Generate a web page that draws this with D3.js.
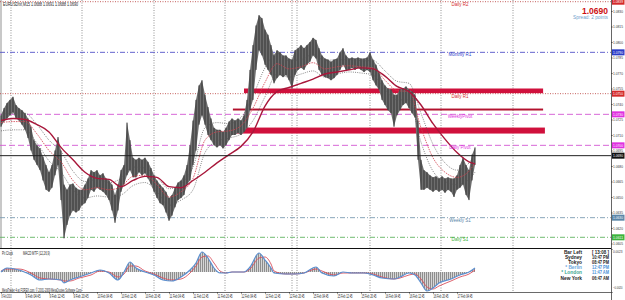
<!DOCTYPE html>
<html>
<head>
<meta charset="utf-8">
<script src="https://cdn.jsdelivr.net/npm/d3@7"></script>
<style>
body { margin: 0; background: #fff; }
svg { display: block; font-family: "Liberation Sans", Arial, sans-serif; }
</style>
</head>
<body>
<svg width="625" height="300"></svg>
<script>
// EURUSD M15, squeezed to one high/low per hour (hour 0 = 8 Feb 20:45)
var highs = [
  1.0729,1.0736,1.0741,1.0744,1.0747,1.0739,1.0736,1.0734,1.0731,1.0726,
  1.0718,1.0705,1.0700,1.0697,1.0689,1.0681,1.0674,1.0681,1.0695,1.0708,
  1.0695,1.0662,1.0657,1.0662,1.0663,1.0659,1.0657,1.0657,1.0662,1.0668,
  1.0676,1.0674,1.0676,1.0671,1.0673,1.0668,1.0666,1.0662,1.0652,1.0662,
  1.0676,1.0681,1.0722,1.0705,1.0688,1.0686,1.0688,1.0686,1.0688,1.0684,
  1.0678,1.0671,1.0666,1.0662,1.0659,1.0655,1.0649,1.0652,1.0659,1.0664,
  1.0666,1.0671,1.0681,1.0700,1.0724,1.0744,1.0758,1.0763,1.0749,1.0737,
  1.0726,1.0717,1.0715,1.0715,1.0713,1.0717,1.0723,1.0726,1.0724,1.0726,
  1.0724,1.0729,1.0744,1.0773,1.0797,1.0816,1.0826,1.0823,1.0812,1.0807,
  1.0797,1.0787,1.0792,1.0790,1.0787,1.0787,1.0784,1.0783,1.0792,1.0794,
  1.0797,1.0794,1.0797,1.0800,1.0804,1.0802,1.0794,1.0787,1.0784,1.0783,
  1.0781,1.0783,1.0784,1.0790,1.0794,1.0787,1.0784,1.0785,1.0784,1.0785,
  1.0784,1.0784,1.0785,1.0790,1.0783,1.0778,1.0771,1.0763,1.0758,1.0755,
  1.0754,1.0749,1.0749,1.0754,1.0755,1.0757,1.0754,1.0752,1.0749,1.0724,
  1.0686,1.0676,1.0674,1.0671,1.0669,1.0670,1.0668,1.0670,1.0668,1.0669,
  1.0668,1.0668,1.0671,1.0681,1.0688,1.0681,1.0676,1.0691,1.0698
];
var lows = [
  1.0718,1.0723,1.0726,1.0729,1.0732,1.0726,1.0724,1.0720,1.0715,1.0707,
  1.0695,1.0686,1.0681,1.0676,1.0666,1.0657,1.0655,1.0659,1.0671,1.0681,
  1.0647,1.0610,1.0623,1.0632,1.0637,1.0635,1.0637,1.0642,1.0644,1.0649,
  1.0657,1.0655,1.0659,1.0657,1.0655,1.0652,1.0647,1.0637,1.0625,1.0637,
  1.0655,1.0662,1.0671,1.0676,1.0669,1.0669,1.0674,1.0671,1.0673,1.0668,
  1.0662,1.0655,1.0649,1.0644,1.0642,1.0635,1.0627,1.0632,1.0640,1.0647,
  1.0649,1.0652,1.0662,1.0666,1.0681,1.0695,1.0720,1.0729,1.0720,1.0710,
  1.0705,1.0700,1.0698,1.0700,1.0697,1.0700,1.0705,1.0710,1.0710,1.0712,
  1.0710,1.0713,1.0717,1.0734,1.0744,1.0773,1.0792,1.0787,1.0778,1.0773,
  1.0768,1.0760,1.0765,1.0768,1.0766,1.0768,1.0763,1.0755,1.0768,1.0773,
  1.0775,1.0773,1.0778,1.0781,1.0787,1.0784,1.0773,1.0768,1.0766,1.0765,
  1.0763,1.0765,1.0768,1.0773,1.0778,1.0773,1.0773,1.0775,1.0773,1.0775,
  1.0773,1.0771,1.0773,1.0771,1.0763,1.0758,1.0754,1.0744,1.0739,1.0734,
  1.0731,1.0718,1.0729,1.0734,1.0739,1.0741,1.0736,1.0731,1.0727,1.0686,
  1.0657,1.0657,1.0659,1.0657,1.0655,1.0657,1.0655,1.0657,1.0654,1.0657,
  1.0655,1.0650,1.0657,1.0659,1.0662,1.0652,1.0647,1.0666,1.0681
];

// moving averages, read every 4 hours
var maHours = [0,4,8,12,16,20,24,28,32,36,40,44,48,52,56,60,64,68,72,76,
  80,84,88,92,96,100,104,108,112,116,120,124,128,132,136,140,144,148,152,156,158];
var slowMa = [1.0724,1.0726,1.0725,1.0720,1.0713,1.0698,1.0686,1.0674,1.0668,1.0667,
  1.0660,1.0666,1.0670,1.0669,1.0660,1.0659,1.0666,1.0674,1.0683,1.0691,
  1.0699,1.0713,1.0738,1.0752,1.0756,1.0760,1.0764,1.0769,1.0771,1.0773,
  1.0775,1.0774,1.0767,1.0757,1.0752,1.0739,1.0721,1.0706,1.0693,1.0684,1.0682];
var fastMa = [1.0722,1.0723,1.0723,1.0711,1.0695,1.0684,1.0666,1.0657,1.0659,1.0657,
  1.0660,1.0670,1.0671,1.0662,1.0650,1.0655,1.0668,1.0705,1.0713,1.0714,
  1.0719,1.0736,1.0761,1.0779,1.0774,1.0776,1.0780,1.0774,1.0776,1.0777,
  1.0776,1.0775,1.0763,1.0753,1.0752,1.0717,1.0688,1.0674,1.0669,1.0675,1.0683];
var bandUp = [1.0730,1.0731,1.0731,1.0720,1.0705,1.0694,1.0675,1.0665,1.0667,1.0664,
  1.0668,1.0679,1.0678,1.0669,1.0658,1.0663,1.0679,1.0717,1.0722,1.0721,
  1.0727,1.0748,1.0775,1.0789,1.0782,1.0783,1.0788,1.0782,1.0783,1.0783,
  1.0782,1.0782,1.0772,1.0762,1.0760,1.0731,1.0701,1.0683,1.0676,1.0683,1.0692];
var bandDown = [1.0714,1.0715,1.0715,1.0702,1.0685,1.0674,1.0657,1.0649,1.0651,1.0650,
  1.0652,1.0661,1.0664,1.0655,1.0642,1.0647,1.0657,1.0693,1.0704,1.0707,
  1.0711,1.0724,1.0747,1.0769,1.0766,1.0769,1.0772,1.0766,1.0769,1.0771,
  1.0770,1.0768,1.0754,1.0744,1.0744,1.0703,1.0675,1.0665,1.0662,1.0667,1.0674];

// MACD MTF
var macdHours = [0,2,6,10,13,16,20,21,23,26,30,33,36,39,41,43,45,48,51,54,
  57,60,63,65,67,69,71,73,75,77,81,83,86,88,90,91,95,98,101,105,
  107,111,114,117,121,124,127,131,133,136,138,140,142,144,146,150,153,156,158];
var macdMain = [0.0000,0.0004,0.0002,-0.0003,-0.0008,-0.0007,-0.0008,-0.0011,-0.0008,-0.0005,
  -0.0001,0.0002,-0.0001,-0.0008,0.0000,0.0010,0.0004,0.0000,-0.0003,-0.0008,
  -0.0009,-0.0005,0.0002,0.0009,0.0020,0.0014,0.0004,-0.0001,-0.0001,0.0000,
  0.0000,0.0005,0.0019,0.0012,0.0004,-0.0001,-0.0002,-0.0002,-0.0001,0.0005,
  -0.0001,-0.0004,0.0000,-0.0001,-0.0001,-0.0003,-0.0006,-0.0007,-0.0005,-0.0001,
  -0.0003,-0.0011,-0.0019,-0.0016,-0.0011,-0.0007,-0.0003,0.0000,0.0004];
var macdSignal = [0.0001,0.0003,0.0003,-0.0001,-0.0006,-0.0007,-0.0008,-0.0009,-0.0009,-0.0006,
  -0.0003,0.0001,0.0000,-0.0005,-0.0002,0.0006,0.0006,0.0001,-0.0002,-0.0006,
  -0.0008,-0.0007,-0.0001,0.0006,0.0015,0.0016,0.0009,0.0001,-0.0001,0.0000,
  0.0000,0.0003,0.0014,0.0015,0.0008,0.0001,-0.0002,-0.0002,-0.0001,0.0003,
  0.0001,-0.0003,-0.0001,-0.0001,-0.0001,-0.0002,-0.0005,-0.0007,-0.0006,-0.0003,
  -0.0002,-0.0007,-0.0015,-0.0017,-0.0014,-0.0009,-0.0005,-0.0002,0.0002];

// pivot levels
var levelNames = ["Daily R2","Monthly R1","Daily R1","WeeklyPivot","Daily Pivot","Weekly S1","Daily S1"];
var levelPrices = [1.0839,1.0790,1.0750,1.0730,1.0700,1.0630,1.0611];
var lastPrice = 1.0690;

// drawn zones
var zoneStart = [81, 77.3, 76.3];
var zoneEnd = [180.7, 180.7, 181.3];
var zoneTop = [1.0755, 1.07356, 1.07172];
var zoneBottom = [1.07505, 1.07337, 1.07114];

var priceTicks = [1.0830,1.0815,1.0800,1.0785,1.0770,1.0755,1.0740,1.0725,1.0710,
  1.0695,1.0680,1.0665,1.0650,1.0635,1.0620,1.0605];
var macdTicks = [0.0023, -0.0020];
var daySeparators = [3.33, 27, 51, 74.67, 97, 98.67, 123, 146.67, 170.67];
var timeLabels = ["8 Feb 2010","9 Feb 04:45","9 Feb 12:45","9 Feb 20:45","10 Feb 04:45","10 Feb 12:45",
  "10 Feb 20:45","11 Feb 04:45","11 Feb 12:45","11 Feb 20:45","12 Feb 04:45","12 Feb 12:45",
  "12 Feb 20:45","15 Feb 04:45","15 Feb 12:45","15 Feb 20:45","16 Feb 04:45","16 Feb 12:45",
  "16 Feb 20:45","17 Feb 04:45"];
var timeHours = [0,8,16,24,32,40,48,56,64,72,80,88,96,104,112,120,128,136,144,152];

var clockNames = ["Bar Left","Sydney","Tokyo","* Berlin","* London","New York"];
var clockTimes = ["[ 13:08 ]","10:47 PM","08:47 PM","12:47 PM","11:47 AM","06:47 AM"];

var levelStyle = {
  "Daily R2":    {line: "#c0504d", box: "#d42a2a", dash: "1,1.5"},
  "Monthly R1":  {line: "#5252c8", box: "#2c3cc8", dash: "5,2,1,2"},
  "Daily R1":    {line: "#c0504d", box: "#d42a2a", dash: "1,1.5"},
  "WeeklyPivot": {line: "#d257d2", box: "#e030e0", dash: "6,3"},
  "Daily Pivot": {line: "#d257d2", box: "#e030e0", dash: "6,3"},
  "Weekly S1":   {line: "#7d9db2", box: "#5a86a8", dash: "5,2,1,2"},
  "Daily S1":    {line: "#62b462", box: "#3cb43c", dash: "5,2,1,2"}
};

var svg = d3.select("svg");
var right = 611;
var x = d3.scaleLinear().domain([0, 203]).range([1, 610]);
var y = d3.scaleLinear().domain([1.0800, 1.0680]).range([42, 166]);
var yM = d3.scaleLinear().domain([-0.0020, 0.0023]).range([292, 249]);

var defs = svg.append("defs");
defs.append("clipPath").attr("id", "mainClip").append("rect")
  .attr("x", 0).attr("y", 0).attr("width", right).attr("height", 248);
defs.append("clipPath").attr("id", "macdClip").append("rect")
  .attr("x", 0).attr("y", 249).attr("width", right).attr("height", 43);
var pat = defs.append("pattern").attr("id", "stripes")
  .attr("width", 2).attr("height", 4).attr("patternUnits", "userSpaceOnUse");
pat.append("rect").attr("width", 1).attr("height", 4).attr("fill", "#8e8e8e");
pat.append("rect").attr("x", 1).attr("width", 1).attr("height", 4).attr("fill", "#d6d6d6");

function tiny(sel, size, len) {
  sel.style("font-size", size + "px");
  if (len) sel.attr("textLength", len).attr("lengthAdjust", "spacingAndGlyphs");
  return sel;
}

// left strip
svg.append("rect").attr("x", 0).attr("y", 0).attr("width", 2).attr("height", 248).attr("fill", "#c8c8c8");

// day separators across both panes
svg.append("g").selectAll("line").data(daySeparators).enter().append("line")
  .attr("x1", function(d) {return x(d);}).attr("x2", function(d) {return x(d);})
  .attr("y1", 0).attr("y2", 292)
  .attr("stroke", "#777").attr("stroke-width", 0.8).attr("stroke-dasharray", "1,1.5");

var main = svg.append("g").attr("clip-path", "url(#mainClip)");

// pivot level lines
main.selectAll("line.level").data(levelNames).enter().append("line")
  .attr("class", "level")
  .attr("x1", 0).attr("x2", right)
  .attr("y1", function(d, i) {return y(levelPrices[i]);})
  .attr("y2", function(d, i) {return y(levelPrices[i]);})
  .attr("stroke", function(d) {return levelStyle[d].line;})
  .attr("stroke-width", 0.9)
  .attr("stroke-dasharray", function(d) {return levelStyle[d].dash;});

// zones
main.selectAll("rect.zone").data(zoneTop).enter().append("rect")
  .attr("class", "zone")
  .attr("x", function(d, i) {return x(zoneStart[i]);})
  .attr("width", function(d, i) {return x(zoneEnd[i]) - x(zoneStart[i]);})
  .attr("y", function(d) {return y(d);})
  .attr("height", function(d, i) {return y(zoneBottom[i]) - y(d);})
  .attr("fill", function(d, i) {return i === 1 ? "#b3122e" : "#d0103c";});

// price
var hours = highs.map(function(d, i) {return i;});
main.append("path").datum(hours)
  .attr("fill", "#6e6e6e")
  .attr("d", d3.area()
    .x(function(i) {return x(i);})
    .y0(function(i) {return y(lows[i]);})
    .y1(function(i) {return y(highs[i]);}));
main.selectAll("line.bar").data(hours).enter().append("line")
  .attr("class", "bar")
  .attr("x1", function(i) {return x(i);}).attr("x2", function(i) {return x(i);})
  .attr("y1", function(i) {return y(highs[i]);})
  .attr("y2", function(i) {return y(lows[i]);})
  .attr("stroke", "#333").attr("stroke-width", 1);

// moving averages
function maLine(values, color, width, dash) {
  main.append("path").datum(maHours)
    .attr("fill", "none").attr("stroke", color).attr("stroke-width", width)
    .attr("stroke-dasharray", dash)
    .attr("d", d3.line()
      .x(function(h) {return x(h);})
      .y(function(h, i) {return y(values[i]);})
      .curve(d3.curveMonotoneX));
}
maLine(bandUp, "#555", 0.7, "1,1.2");
maLine(bandDown, "#555", 0.7, "1,1.2");
maLine(fastMa, "#d2404e", 0.8, "1.5,1");
maLine(slowMa, "#a8173a", 1.4, null);

// level labels
main.selectAll("text.level").data(levelNames).enter().append("text")
  .attr("class", "level")
  .attr("x", 460).attr("y", function(d, i) {return y(levelPrices[i]) + 4;})
  .attr("text-anchor", "middle")
  .attr("fill", function(d) {return levelStyle[d].box;})
  .text(function(d) {return d;})
  .call(tiny, 4.5, null);

// current price line
svg.append("line").attr("x1", 0).attr("x2", right)
  .attr("y1", y(lastPrice)).attr("y2", y(lastPrice))
  .attr("stroke", "#222").attr("stroke-width", 1);

// pane borders
svg.append("line").attr("x1", 0).attr("x2", right).attr("y1", 248.5).attr("y2", 248.5)
  .attr("stroke", "#111").attr("stroke-width", 1);
svg.append("line").attr("x1", 0).attr("x2", right).attr("y1", 292.5).attr("y2", 292.5)
  .attr("stroke", "#444").attr("stroke-width", 0.8);
svg.append("line").attr("x1", right + 0.5).attr("x2", right + 0.5).attr("y1", 0).attr("y2", 300)
  .attr("stroke", "#666").attr("stroke-width", 1);

// price axis
var yAxis = svg.append("g").attr("transform", "translate(" + right + ",0)")
  .call(d3.axisRight(y).tickValues(priceTicks).tickFormat(d3.format(".4f")).tickSize(1.5).tickPadding(0.5));
yAxis.select(".domain").remove();
yAxis.selectAll("line").attr("stroke", "#444");
yAxis.selectAll("text").attr("fill", "#333").call(tiny, 4.3, 10);

// level boxes on the axis
var boxes = svg.append("g");
boxes.selectAll("rect").data(levelNames).enter().append("rect")
  .attr("x", right + 1).attr("width", 12.5)
  .attr("y", function(d, i) {return y(levelPrices[i]) - 3;}).attr("height", 6)
  .attr("fill", function(d) {return levelStyle[d].box;});
boxes.selectAll("text").data(levelNames).enter().append("text")
  .attr("x", right + 2).attr("y", function(d, i) {return y(levelPrices[i]) + 1.6;})
  .attr("fill", "#fff").text(function(d, i) {return d3.format(".4f")(levelPrices[i]);})
  .call(tiny, 4.3, 10);
boxes.append("rect").attr("x", right + 1).attr("width", 12.5)
  .attr("y", y(lastPrice) - 3).attr("height", 6).attr("fill", "#111");
boxes.append("text").attr("x", right + 2).attr("y", y(lastPrice) + 1.6)
  .attr("fill", "#fff").text(d3.format(".4f")(lastPrice)).call(tiny, 4.3, 10);

// header texts
svg.append("text").attr("x", 3).attr("y", 5.5).attr("fill", "#222")
  .text("EURUSDfxf,M15  1.0688 1.0691 1.0688 1.0690").call(tiny, 4.5, 75);
svg.append("text").attr("x", 608).attr("y", 13.5).attr("text-anchor", "end")
  .attr("fill", "#cc1111").style("font-weight", "bold")
  .text(d3.format(".4f")(lastPrice)).call(tiny, 9, 26);
svg.append("text").attr("x", 608).attr("y", 19).attr("text-anchor", "end")
  .attr("fill", "#6f9fcc").text("Spread: 2 points").call(tiny, 5, 35);

// MACD pane
var macd = svg.append("g").attr("clip-path", "url(#macdClip)");
macd.append("path").datum(macdHours)
  .attr("fill", "url(#stripes)")
  .attr("d", d3.area()
    .x(function(h) {return x(h);})
    .y0(yM(0))
    .y1(function(h, i) {return yM(macdMain[i]);})
    .curve(d3.curveMonotoneX));
macd.append("path").datum(macdHours)
  .attr("fill", "none").attr("stroke", "#d9505c").attr("stroke-width", 0.9)
  .attr("d", d3.line().x(function(h) {return x(h);})
    .y(function(h, i) {return yM(macdSignal[i]);}).curve(d3.curveMonotoneX));
macd.append("path").datum(macdHours)
  .attr("fill", "none").attr("stroke", "#5b8fd0").attr("stroke-width", 1.2)
  .attr("d", d3.line().x(function(h) {return x(h);})
    .y(function(h, i) {return yM(macdMain[i]);}).curve(d3.curveMonotoneX));

svg.append("text").attr("x", 2).attr("y", 254.5).attr("fill", "#222").text("Pit Clock").call(tiny, 4.5, 11);
svg.append("text").attr("x", 23).attr("y", 254.5).attr("fill", "#222").text("MACD MTF (12,26,9)").call(tiny, 4.5, 27);
svg.append("text").attr("x", 2).attr("y", 291.5).attr("fill", "#222")
  .text("MetaTrader 4 at FOREX.com, \u00a9 2001-2009 MetaQuotes Software Corp.").call(tiny, 4.5, 80);

// MACD scale labels, kept inside the pane
var mAxis = svg.append("g").attr("transform", "translate(" + right + ",0)")
  .call(d3.axisRight(yM).tickValues(macdTicks).tickFormat(d3.format(".4f")).tickSize(1.5).tickPadding(0.5));
mAxis.select(".domain").remove();
mAxis.selectAll("line").attr("stroke", "#444");
mAxis.selectAll("text").attr("fill", "#333").call(tiny, 3.6, 9.5);
mAxis.selectAll(".tick").filter(function(d) {return d > 0;}).select("text").attr("dy", "0.9em");
mAxis.selectAll(".tick").filter(function(d) {return d < 0;}).select("text").attr("dy", "-0.9em");

// clock panel
var clock = svg.append("g").style("font-weight", "bold");
clock.selectAll("text.name").data(clockNames).enter().append("text")
  .attr("class", "name").attr("x", 582).attr("y", function(d, i) {return 254 + i * 5.1;})
  .attr("text-anchor", "end")
  .attr("fill", function(d, i) {return i === 3 ? "#6fa8dc" : i === 4 ? "#3aa890" : "#222";})
  .text(function(d) {return d;}).call(tiny, 4.8, null);
clock.selectAll("text.time").data(clockTimes).enter().append("text")
  .attr("class", "time").attr("x", 609).attr("y", function(d, i) {return 254 + i * 5.1;})
  .attr("text-anchor", "end")
  .attr("fill", function(d, i) {return (i === 3 || i === 4) ? "#4a8fd6" : "#222";})
  .text(function(d) {return d;}).call(tiny, 4.8, 17);

// time axis
var tAxis = svg.append("g").attr("transform", "translate(0,292)")
  .call(d3.axisBottom(x).tickValues(timeHours)
    .tickFormat(function(d, i) {return timeLabels[i];}).tickSize(1.5).tickPadding(1));
tAxis.select(".domain").remove();
tAxis.selectAll("line").attr("stroke", "#444");
tAxis.selectAll("text").attr("text-anchor", "start").attr("fill", "#222")
  .each(function(d, i) {d3.select(this).call(tiny, 4.5, i === 0 ? 10 : 15);});
</script>
</body>
</html>
